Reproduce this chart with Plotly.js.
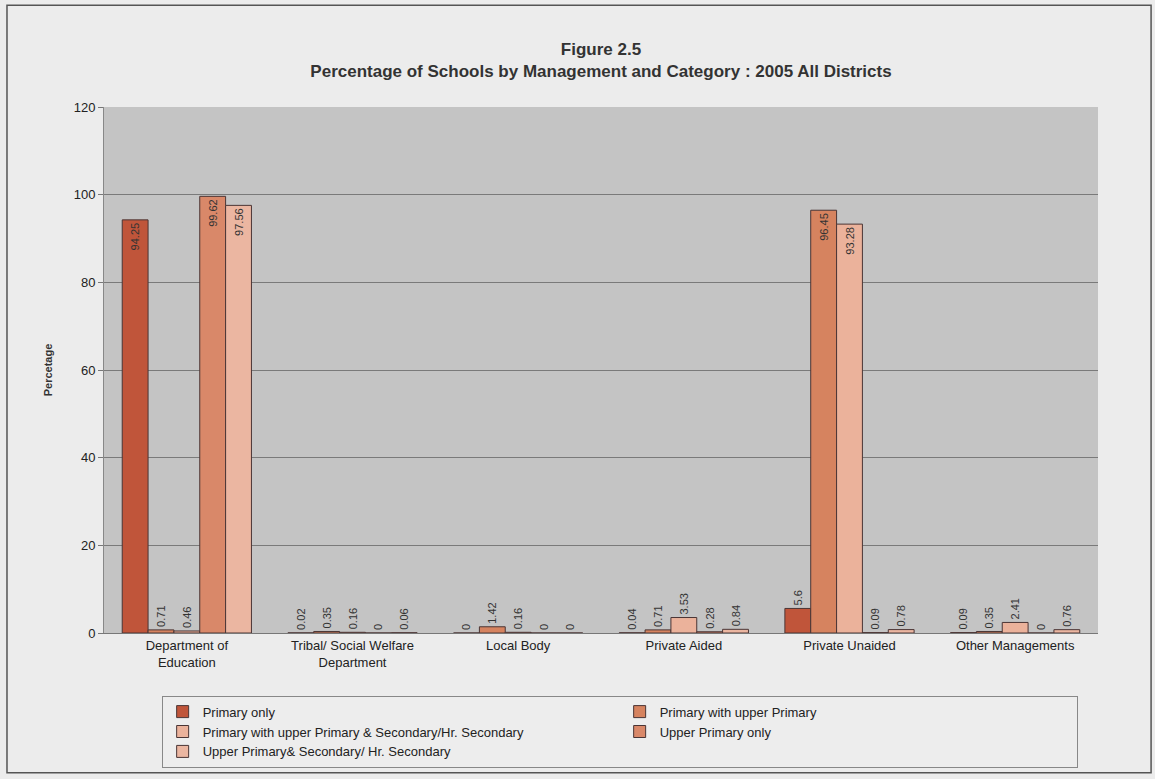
<!DOCTYPE html>
<html>
<head>
<meta charset="utf-8">
<script src="https://cdn.plot.ly/plotly-3.0.1.min.js"></script>
<style>html,body{margin:0;padding:0;background:#ececec;}#chart{width:1155px;height:779px;}</style>
</head>
<body>
<div id="chart"></div>
<script>
const categories = ["Department of<br>Education", "Tribal/ Social Welfare<br>Department", "Local Body", "Private Aided", "Private Unaided", "Other Managements"];
const seriesNames = ["Primary only", "Primary with upper Primary", "Primary with upper Primary & Secondary/Hr. Secondary", "Upper Primary only", "Upper Primary& Secondary/ Hr. Secondary"];
const primaryOnly = [94.25, 0.02, 0, 0.04, 5.6, 0.09];
const primaryWithUpper = [0.71, 0.35, 1.42, 0.71, 96.45, 0.35];
const primaryUpperSecondary = [0.46, 0.16, 0.16, 3.53, 93.28, 2.41];
const upperPrimaryOnly = [99.62, 0, 0, 0.28, 0.09, 0];
const upperPrimarySecondary = [97.56, 0.06, 0, 0.84, 0.78, 0.76];
const seriesValues = [primaryOnly, primaryWithUpper, primaryUpperSecondary, upperPrimaryOnly, upperPrimarySecondary];
const colors = ["#c0553a", "#d6835f", "#ebb29b", "#d98869", "#ebb6a1"];

const FONT = '"Liberation Sans", Arial, sans-serif';

const traces = seriesValues.map((vals, i) => ({
  type: 'bar',
  name: seriesNames[i],
  x: categories,
  y: vals,
  text: vals.map(v => String(v)),
  textposition: vals.map(v => v > 50 ? 'inside' : 'outside'),
  insidetextanchor: 'end',
  textangle: -90,
  constraintext: 'none',
  cliponaxis: false,
  textfont: {family: FONT, size: 11, color: '#333'},
  insidetextfont: {family: FONT, size: 11, color: '#333'},
  outsidetextfont: {family: FONT, size: 11, color: '#333'},
  marker: {color: colors[i], line: {color: '#4a3535', width: 1}},
  hoverinfo: 'x+y+name'
}));

const layout = {
  width: 1155,
  height: 779,
  margin: {l: 104, r: 57, t: 107, b: 145},
  paper_bgcolor: '#ececec',
  plot_bgcolor: '#c4c4c4',
  font: {family: FONT, color: '#222', size: 13},
  barmode: 'group',
  bargap: 0.22,
  bargroupgap: 0,
  title: {
    text: '<b>Figure 2.5<br>Percentage of Schools by Management and Category : 2005 All Districts</b>',
    font: {family: FONT, size: 17, color: '#333'},
    x: 0.5, xref: 'paper', xanchor: 'center',
    y: 1 - 55 / 779, yref: 'container', yanchor: 'middle'
  },
  xaxis: {
    type: 'category',
    showgrid: false,
    showline: true,
    linecolor: '#777',
    linewidth: 1,
    ticks: '',
    tickfont: {family: FONT, size: 13, color: '#222'},
    automargin: false
  },
  yaxis: {
    range: [0, 120],
    tickvals: [0, 20, 40, 60, 80, 100, 120],
    showgrid: true,
    gridcolor: '#7a7a7a',
    gridwidth: 1,
    zeroline: false,
    showline: true,
    linecolor: '#888',
    ticks: 'outside',
    ticklen: 5,
    tickcolor: '#777',
    tickfont: {family: FONT, size: 13, color: '#222'},
    title: {text: '<b>Percetage</b>', font: {family: FONT, size: 11, color: '#333'}, standoff: 18},
    automargin: false
  },
  showlegend: true,
  legend: {
    orientation: 'h',
    x: 0.058, xanchor: 'left',
    y: -0.117, yanchor: 'top',
    entrywidth: 412,
    entrywidthmode: 'pixels',
    traceorder: 'normal',
    bgcolor: '#ededed',
    bordercolor: '#888',
    borderwidth: 1,
    font: {family: FONT, size: 13, color: '#222'},
    itemwidth: 30,
    tracegroupgap: 0
  },
  shapes: [{
    type: 'rect', xref: 'paper', yref: 'paper',
    x0: -0.0976, x1: 1.0534, y0: -0.2657, y1: 1.1935,
    line: {color: '#555', width: 1.5}, fillcolor: 'rgba(0,0,0,0)', layer: 'below'
  }]
};

Plotly.newPlot('chart', traces, layout, {displayModeBar: false, staticPlot: true});
</script>
</body>
</html>
